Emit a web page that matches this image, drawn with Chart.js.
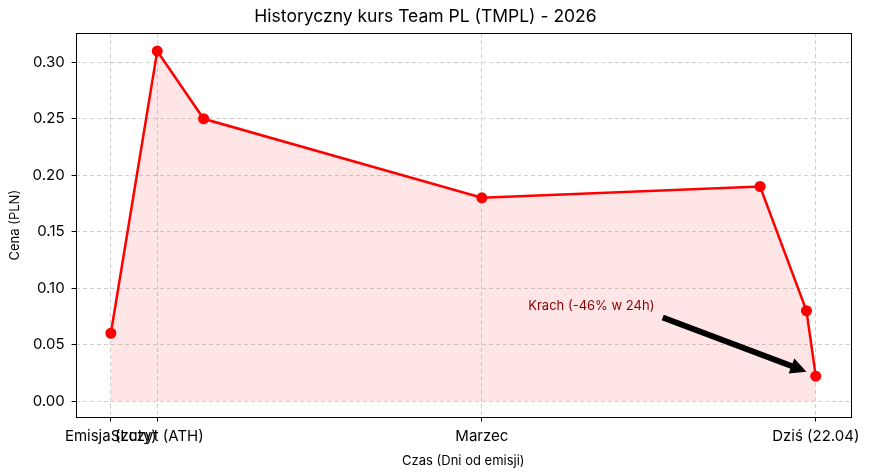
<!DOCTYPE html>
<html>
<head>
<meta charset="utf-8">
<script src="https://cdn.jsdelivr.net/npm/chart.js@4"></script>
<style>
  html, body { margin: 0; padding: 0; background: #ffffff; }
  #wrap { width: 869px; height: 475px; }
</style>
</head>
<body>
<div id="wrap"><canvas id="kursChart" width="869" height="475"></canvas></div>
<script>
// Dane: dni od emisji i cena (PLN)
var days = [0, 1, 2, 8, 14, 15, 15.2];
var prices = [0.06, 0.31, 0.25, 0.18, 0.19, 0.08, 0.022];
var xTickValues = [0, 1, 8, 15.2];
var xTickLabels = ['Emisja (Luty)', 'Szczyt (ATH)', 'Marzec', 'Dziś (22.04)'];
var yTickValues = [0, 0.05, 0.10, 0.15, 0.20, 0.25, 0.30];
var noteText = 'Krach (-46% w 24h)';
var noteAt = [9, 0.084];
var arrowFrom = [11.9, 0.074];
var arrowTo = [15.0, 0.026];

(function () {
  'use strict';

  var FONT = "'Inter', sans-serif";
  var RED = '#ff0000';
  var GRID = 'rgba(176,176,176,0.6)';

  var frame = {
    id: 'frame',
    afterDraw: function (chart) {
      var a = chart.chartArea;
      var ctx = chart.ctx;
      ctx.save();
      ctx.strokeStyle = '#000000';
      ctx.lineWidth = 1;
      ctx.strokeRect(Math.round(a.left) + 0.5, Math.round(a.top) + 0.5,
        Math.round(a.right - a.left), Math.round(a.bottom - a.top));
      ctx.restore();
    }
  };

  var note = {
    id: 'note',
    afterDatasetsDraw: function (chart) {
      var x = chart.scales.x, y = chart.scales.y, ctx = chart.ctx;
      ctx.save();
      ctx.font = '13px ' + FONT;
      ctx.fillStyle = '#8b0000';
      ctx.textAlign = 'left';
      ctx.textBaseline = 'middle';
      ctx.fillText(noteText, x.getPixelForValue(noteAt[0]), y.getPixelForValue(noteAt[1]));

      var x0 = x.getPixelForValue(arrowFrom[0]), y0 = y.getPixelForValue(arrowFrom[1]);
      var x1 = x.getPixelForValue(arrowTo[0]), y1 = y.getPixelForValue(arrowTo[1]);
      var ang = Math.atan2(y1 - y0, x1 - x0);
      var headLen = 16, headW = 8, shaft = 3;
      var bx = x1 - headLen * Math.cos(ang), by = y1 - headLen * Math.sin(ang);
      var px = -Math.sin(ang), py = Math.cos(ang);
      ctx.fillStyle = '#000000';
      ctx.beginPath();
      ctx.moveTo(x0 + px * shaft, y0 + py * shaft);
      ctx.lineTo(bx + px * shaft, by + py * shaft);
      ctx.lineTo(bx + px * headW, by + py * headW);
      ctx.lineTo(x1, y1);
      ctx.lineTo(bx - px * headW, by - py * headW);
      ctx.lineTo(bx - px * shaft, by - py * shaft);
      ctx.lineTo(x0 - px * shaft, y0 - py * shaft);
      ctx.closePath();
      ctx.fill();
      ctx.restore();
    }
  };

  Chart.defaults.font.family = FONT;
  Chart.defaults.color = '#000000';

  new Chart(document.getElementById('kursChart'), {
    type: 'line',
    data: {
      datasets: [{
        data: days.map(function (d, i) { return { x: d, y: prices[i] }; }),
        borderColor: RED,
        backgroundColor: 'rgba(255,0,0,0.1)',
        pointBackgroundColor: RED,
        pointBorderColor: RED,
        pointRadius: 4.3,
        borderWidth: 2.5,
        tension: 0,
        fill: 'origin'
      }]
    },
    options: {
      responsive: false,
      animation: false,
      layout: { padding: { left: 0, right: 18, top: 4, bottom: 4 } },
      plugins: {
        legend: { display: false },
        tooltip: { enabled: false },
        title: {
          display: true,
          text: 'Historyczny kurs Team PL (TMPL) - 2026',
          font: { size: 17.5, weight: 'normal' },
          color: '#000000',
          padding: { top: 2, bottom: 6 }
        }
      },
      scales: {
        x: {
          type: 'linear',
          min: -0.76,
          max: 15.96,
          afterBuildTicks: function (s) { s.ticks = xTickValues.map(function (v) { return { value: v }; }); },
          ticks: {
            autoSkip: false,
            maxRotation: 0,
            font: { size: 15 },
            color: '#000000',
            padding: 6,
            callback: function (v) { return xTickLabels[xTickValues.indexOf(v)]; }
          },
          grid: { color: GRID, tickColor: '#000000', tickLength: 4, tickBorderDash: [] },
          border: { display: false, dash: [4, 3] },
          title: { display: true, text: 'Czas (Dni od emisji)', font: { size: 13 }, padding: { top: 2, bottom: 2 } }
        },
        y: {
          min: -0.0145,
          max: 0.326,
          afterBuildTicks: function (s) { s.ticks = yTickValues.map(function (v) { return { value: v }; }); },
          ticks: {
            font: { size: 15 },
            color: '#000000',
            padding: 7,
            callback: function (v) { return v.toFixed(2); }
          },
          grid: { color: GRID, tickColor: '#000000', tickLength: 4, tickBorderDash: [] },
          border: { display: false, dash: [4, 3] },
          title: { display: true, text: 'Cena (PLN)', font: { size: 13 }, padding: { top: 7, bottom: 3 } }
        }
      }
    },
    plugins: [frame, note]
  });
})();
</script>
</body>
</html>
